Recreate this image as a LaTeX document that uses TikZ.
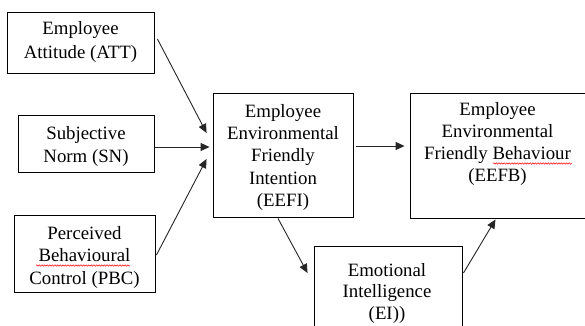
\documentclass[tikz,border=0pt]{standalone}
\usepackage{fontspec}
\setmainfont{Liberation Serif}
\usetikzlibrary{arrows.meta,decorations.pathmorphing}
\newcommand\myst{\rule{0pt}{15pt}}
\tikzset{
  box/.style={draw=black, line width=0.9pt, inner sep=0pt},
  lbl/.style={align=center, inner sep=0pt, anchor=north, text=black},
  conn/.style={line width=0.9pt, draw=black!85, -{Triangle[length=9pt,width=8pt]}},
  spell/.style={draw=red, line width=0.5pt, decorate, decoration={snake, amplitude=0.7pt, segment length=2.6pt}}
}
\newcommand\fsz[1]{\fontsize{18.8}{#1}\selectfont}
\begin{document}
\begin{tikzpicture}[x=1pt,y=-1pt]
\useasboundingbox (0,0) rectangle (585,325);
\clip (0,0) rectangle (585,325);
\fill[white] (0,0) rectangle (585,325);
% boxes
\node[box, minimum width=147pt, minimum height=61pt] (att) at (80.5,42.5) {};
\node[box, minimum width=136pt, minimum height=57pt] (sn) at (86,143.5) {};
\node[box, minimum width=141pt, minimum height=77pt] (pbc) at (84.5,253.5) {};
\node[box, minimum width=140pt, minimum height=124pt] (eefi) at (283,155) {};
\node[box, minimum width=177pt, minimum height=125pt] (eefb) at (498.5,155.5) {};
\node[box, minimum width=148pt, minimum height=94pt] (ei) at (388,293) {};
% texts
\node[lbl, font=\fsz{24}] (att-t) at (80.5,19) {\myst Employee\\Attitude (ATT)};
\node[lbl, font=\fsz{23}] (sn-t) at (86,124) {\myst Subjective\\Norm (SN)};
\node[lbl, font=\fsz{22.5}] (pbc-t) at (84.5,224) {\myst Perceived\\Behavioural\\Control (PBC)};
\node[lbl, font=\fsz{22.3}] (eefi-t) at (283,102) {\myst Employee\\Environmental\\Friendly\\Intention\\(EEFI)};
\node[lbl, font=\fsz{22}] (eefb-t) at (497.5,100) {\myst Employee\\Environmental\\Friendly Behaviour\\(EEFB)};
\node[lbl, font=\fsz{21.5}] (ei-t) at (387,261) {\myst Emotional\\Intelligence\\(EI))};
% spell-check underlines
\draw[spell] (36,265.5) -- (130,265.5);
\draw[spell] (493,163.5) -- (572,163.5);
% connectors
\draw[conn] ([shift={(3,-3.5)}]att.east) -- ([shift={(-6,-22)}]eefi.west);
\draw[conn] ([shift={(1,3.5)}]sn.east) -- ([shift={(-3,-8)}]eefi.west);
\draw[conn] ([shift={(1,1.5)}]pbc.east) -- ([shift={(-6,4)}]eefi.west);
\draw[conn] ([shift={(3,-9)}]eefi.east) -- ([shift={(-5,-9.5)}]eefb.west);
\draw[conn] ([shift={(-5,1)}]eefi.south) -- ([shift={(-6,-20)}]ei.west);
\draw[conn] ([shift={(1,-20)}]ei.east) -- ([shift={(-3,1)}]eefb.south);
\end{tikzpicture}
\end{document}
